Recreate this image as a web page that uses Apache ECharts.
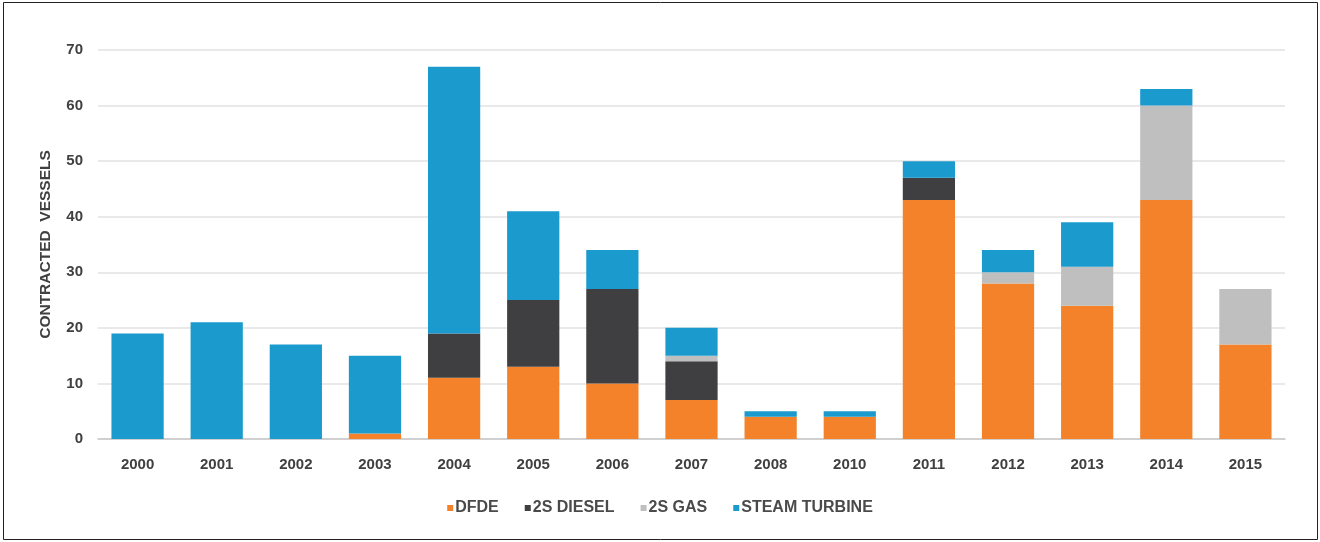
<!DOCTYPE html>
<html>
<head>
<meta charset="utf-8">
<script src="https://cdn.jsdelivr.net/npm/echarts@6/dist/echarts.min.js"></script>
<style>
  html, body { margin: 0; padding: 0; background: #fff; }
  #chart { width: 1320px; height: 542px; }
</style>
</head>
<body>
<div id="chart"></div>
<script>
var years = ['2000', '2001', '2002', '2003', '2004', '2005', '2006', '2007', '2008', '2010', '2011', '2012', '2013', '2014', '2015'];
var dfde         = [0, 0, 0, 1, 11, 13, 10, 7, 4, 4, 43, 28, 24, 43, 17];
var diesel2s     = [0, 0, 0, 0, 8, 12, 17, 7, 0, 0, 4, 0, 0, 0, 0];
var gas2s        = [0, 0, 0, 0, 0, 0, 0, 1, 0, 0, 0, 2, 7, 17, 10];
var steamTurbine = [19, 21, 17, 14, 48, 16, 7, 5, 1, 1, 3, 4, 8, 3, 0];

var chart = echarts.init(document.getElementById('chart'));

function bar(name, data, color){
    return {
        name: name,
        type: 'bar',
        stack: 'total',
        barWidth: '66%',
        itemStyle: { color: color },
        data: data
    };
}

var option = {
    animation: false,
    textStyle: { fontFamily: 'Liberation Sans, Arial, sans-serif' },
    graphic: [{
        type: 'rect',
        shape: { x: 3.5, y: 2.5, width: 1314, height: 537 },
        style: { fill: 'none', stroke: '#222', lineWidth: 1 }
    }],
    grid: { left: 98, right: 35, top: 50, bottom: 103 },
    legend: {
        bottom: 21,
        left: 'center',
        itemWidth: 6,
        itemHeight: 6,
        itemGap: 26,
        icon: 'rect',
        textStyle: { fontSize: 16, fontWeight: 'bold', color: '#4a4a4a', padding: [0, 0, 0, -3] },
        data: ['DFDE', '2S DIESEL', '2S GAS', 'STEAM TURBINE']
    },
    xAxis: {
        type: 'category',
        data: years,
        axisTick: { show: false },
        axisLine: { lineStyle: { color: '#c8c8c8', width: 1.5 } },
        axisLabel: { fontSize: 15, fontWeight: 'bold', color: '#404040', margin: 18 }
    },
    yAxis: {
        type: 'value',
        min: 0,
        max: 70,
        interval: 10,
        name: 'CONTRACTED  VESSELS',
        nameLocation: 'middle',
        nameGap: 44,
        nameTextStyle: { fontSize: 15.5, fontWeight: 'bold', color: '#404040' },
        axisLine: { show: false },
        axisTick: { show: false },
        axisLabel: { fontSize: 15, fontWeight: 'bold', color: '#404040', margin: 15 },
        splitLine: { lineStyle: { color: '#e2e2e2', width: 1.5 } }
    },
    series: [
        bar('DFDE', dfde, '#f3822b'),
        bar('2S DIESEL', diesel2s, '#3f3f41'),
        bar('2S GAS', gas2s, '#bfbfbf'),
        bar('STEAM TURBINE', steamTurbine, '#1a9acd')
    ]
};

chart.setOption(option);
</script>
</body>
</html>
